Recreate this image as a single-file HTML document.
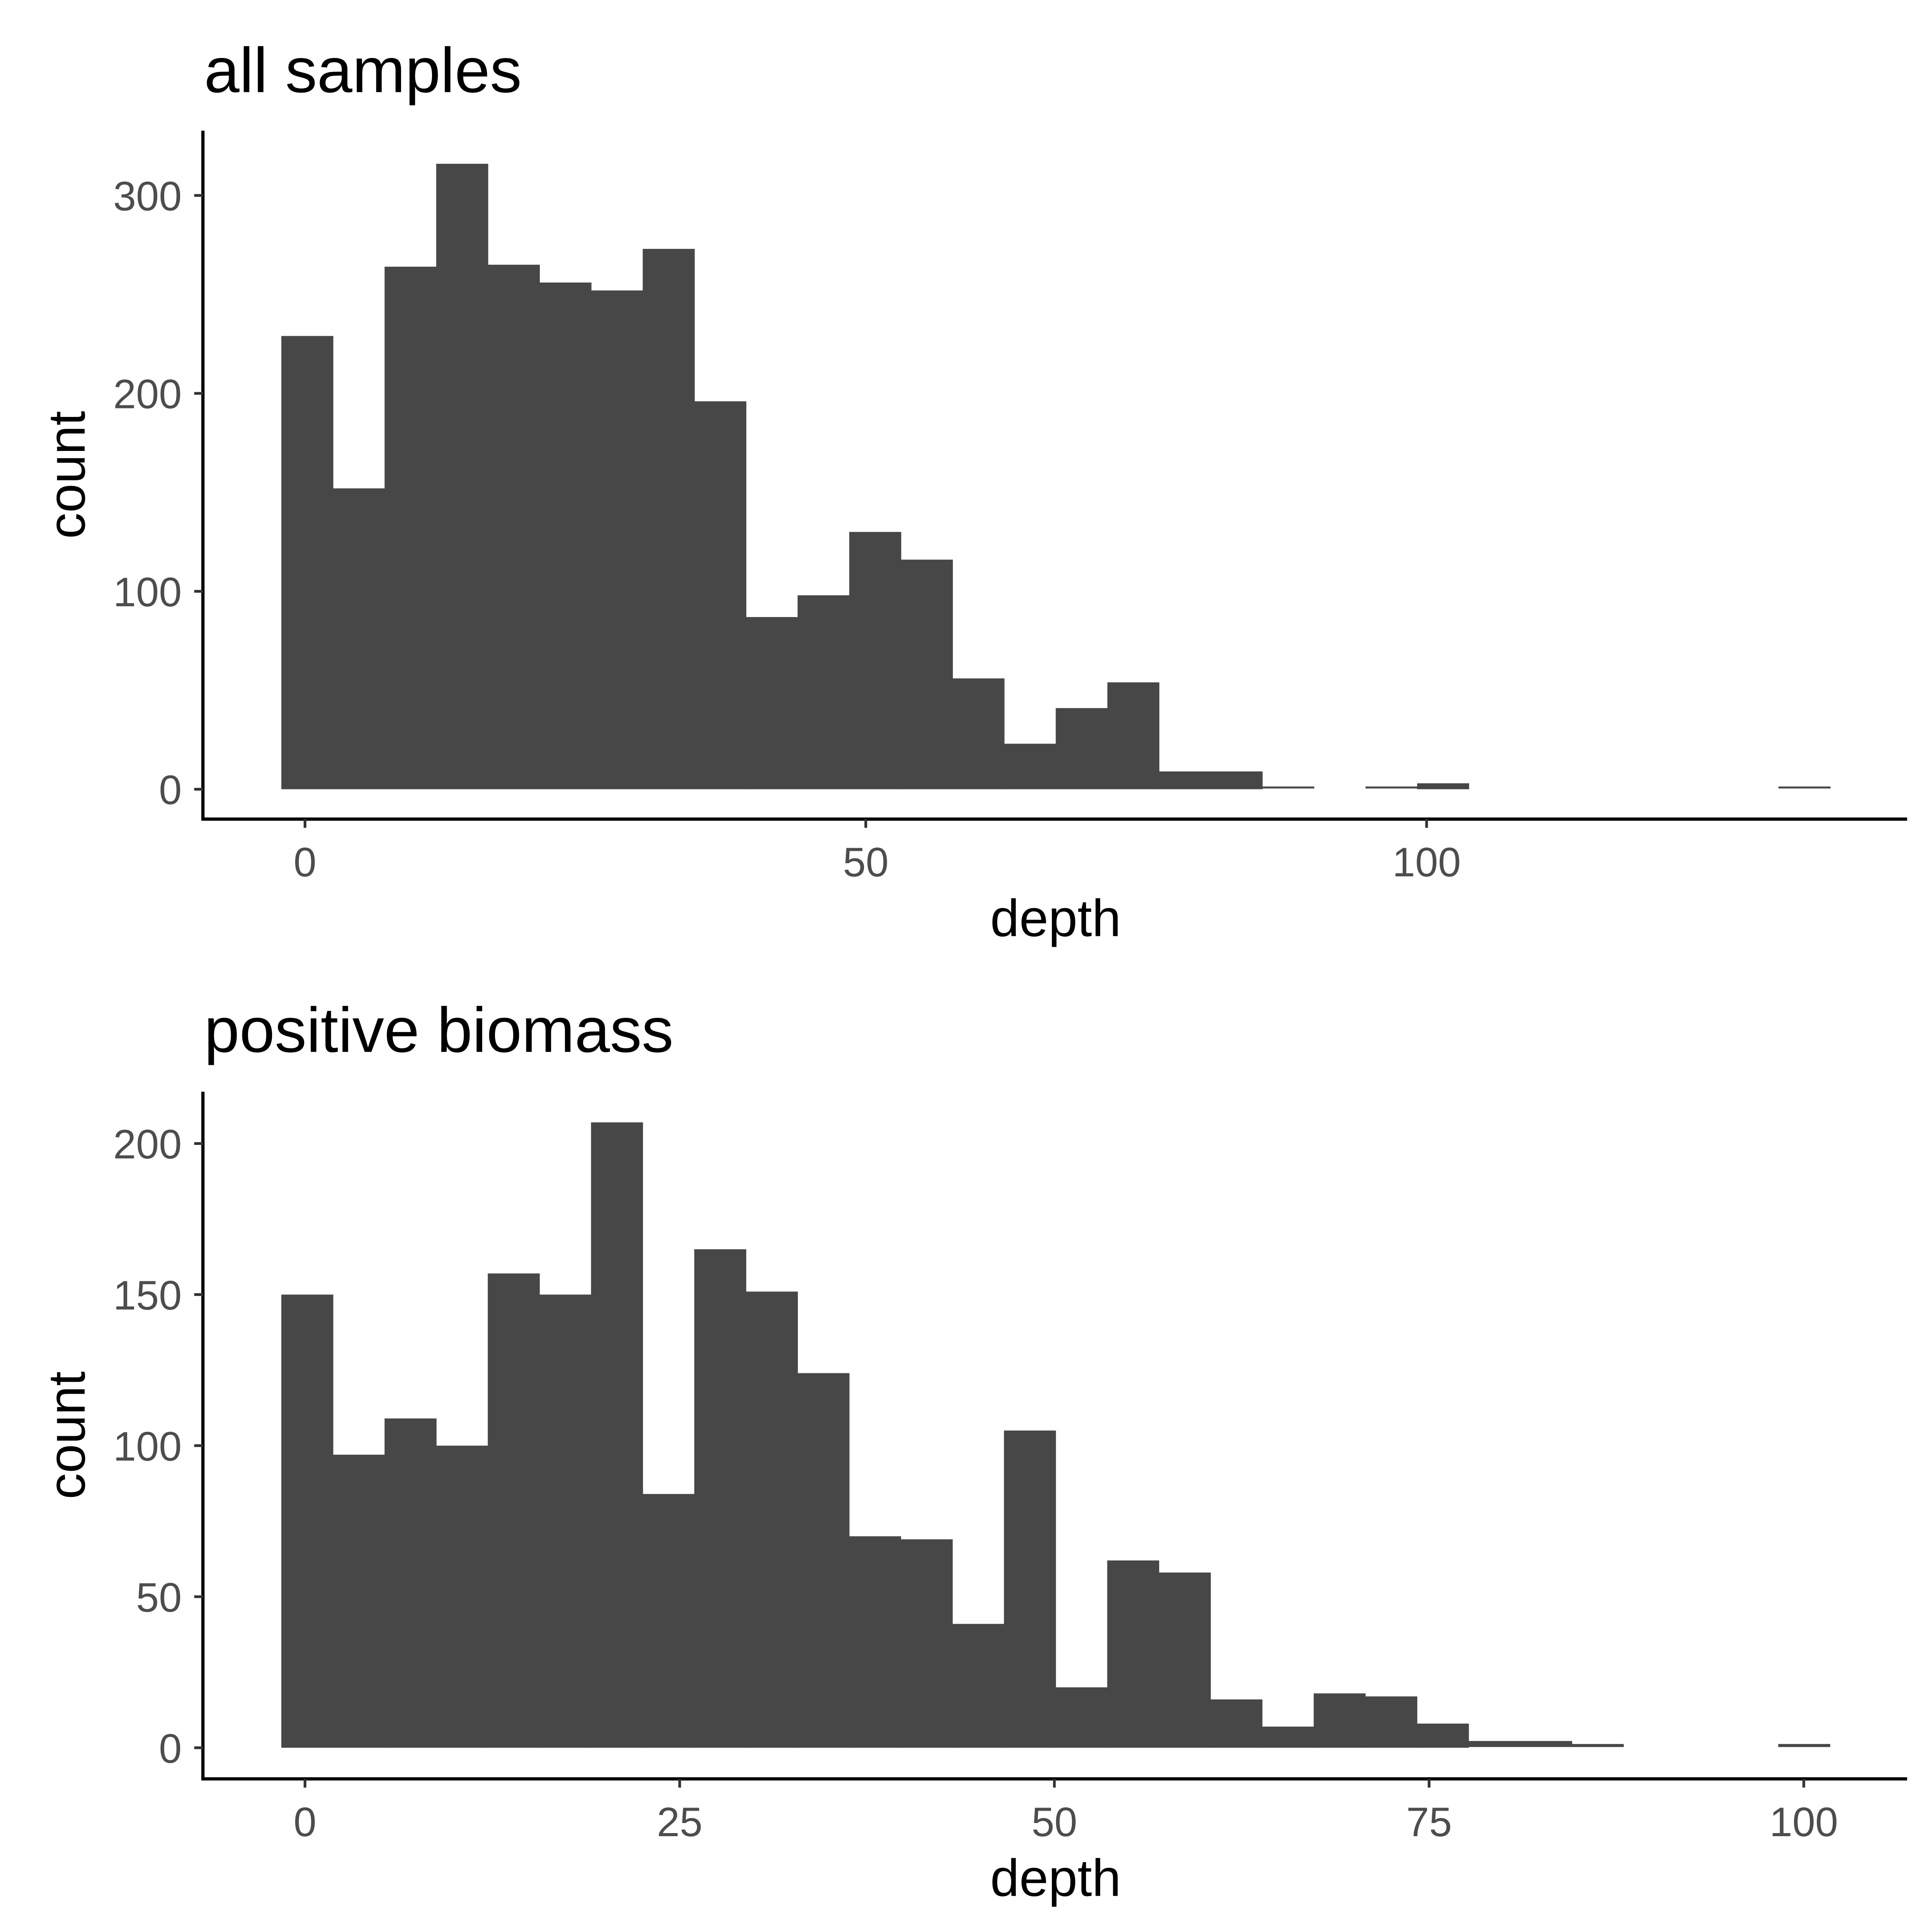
<!DOCTYPE html>
<html><head><meta charset="utf-8"><style>
html,body{margin:0;padding:0;background:#fff;overflow:hidden;width:100%;height:100%;}
svg{display:block;width:100vw;height:100vh;font-family:"Liberation Sans",Arial,sans-serif;}
</style></head><body>
<svg id="chart" viewBox="0 0 1552 1552" preserveAspectRatio="none" xmlns="http://www.w3.org/2000/svg"></svg>
<script>
// Top panel data (all samples)
const topCounts = [229,152,264,316,265,256,252,273,196,87,98,130,116,56,23,41,54,9,9,1,0,1,3,0,0,0,0,0,0,1];
const topBinStart = -2.11;
const topBinWidth = 4.603;
const topXTicks = [0,50,100];
const topYTicks = [0,100,200,300];
// Bottom panel data (positive biomass)
const botCounts = [150,97,109,100,157,150,207,84,165,151,124,70,69,41,105,20,62,58,16,7,18,17,8,2,2,1,0,0,0,1];
const botBinStart = -1.58;
const botBinWidth = 3.444;
const botXTicks = [0,25,50,75,100];
const botYTicks = [0,50,100,150,200];

const NS = "http://www.w3.org/2000/svg";
const svg = document.getElementById('chart');
function mk(tag, attrs, parent){
  const e = document.createElementNS(NS, tag);
  for (const k in attrs) e.setAttribute(k, attrs[k]);
  (parent||svg).appendChild(e);
  return e;
}
function panel(cfg){
  const g = mk('g', {});
  
  
  const xs = v => cfg.x0 + v*cfg.xk;
  const ys = v => cfg.y0 - v*cfg.yk;
  cfg.counts.forEach((c,i)=>{
    const l = xs(cfg.binStart + i*cfg.binWidth), r = xs(cfg.binStart + (i+1)*cfg.binWidth);
    if (c<=0) return;
    const b = mk('rect', {x:l, y:ys(c), width:r-l+0.3, height:Math.max(ys(0)-ys(c),0), fill:'#474747'}, g);
    
    
    if (c <= 2) { b.setAttribute('height', Math.max(ys(0)-ys(c),1.2)); b.setAttribute('y', ys(c)-0.6); }
  });
  const ya = mk('line', {x1:163, x2:163, y1:cfg.top, y2:cfg.axisY+1.2, stroke:'#000','stroke-width':2.6}, g);
   
  const xa = mk('line', {x1:162, x2:1532, y1:cfg.axisY, y2:cfg.axisY, stroke:'#000','stroke-width':2.6}, g);
   
  cfg.xTicks.forEach(t=>{
    mk('line',{x1:xs(t),x2:xs(t),y1:cfg.axisY,y2:cfg.axisY+7,stroke:'#333','stroke-width':2.2},g);
    const tx = mk('text',{x:xs(t),y:cfg.axisY+46,'text-anchor':'middle','font-size':33,fill:'#4d4d4d'},g);
    tx.textContent = t;
     
  });
  cfg.yTicks.forEach(t=>{
    mk('line',{x1:156,x2:163,y1:ys(t),y2:ys(t),stroke:'#333','stroke-width':2.2},g);
    const tx = mk('text',{x:146,y:ys(t)+12,'text-anchor':'end','font-size':33,fill:'#4d4d4d'},g);
    tx.textContent = t;
     
  });
  const xt = mk('text',{x:848,y:cfg.axisY+94,'text-anchor':'middle','font-size':42,fill:'#000'},g);
  xt.textContent='depth';
   
  const cy = (cfg.top+cfg.axisY)/2;
  const yt = mk('text',{x:0,y:0,'text-anchor':'middle','font-size':42,fill:'#000',transform:'translate(68,'+cy+') rotate(-90)'},g);
  yt.textContent='count';
   
  const tt = mk('text',{x:164,y:cfg.titleY,'font-size':51,fill:'#000'},g);
  tt.textContent = cfg.title;
   
}
panel({name:'top-panel', title:'all samples', counts:topCounts, binStart:topBinStart, binWidth:topBinWidth,
  xTicks:topXTicks, yTicks:topYTicks, x0:245, xk:9.01, y0:634, yk:1.59, top:105, axisY:658, titleY:74});
panel({name:'bottom-panel', title:'positive biomass', counts:botCounts, binStart:botBinStart, binWidth:botBinWidth,
  xTicks:botXTicks, yTicks:botYTicks, x0:245, xk:12.04, y0:1404, yk:2.427, top:877, axisY:1429, titleY:845});
</script>
</body></html>
